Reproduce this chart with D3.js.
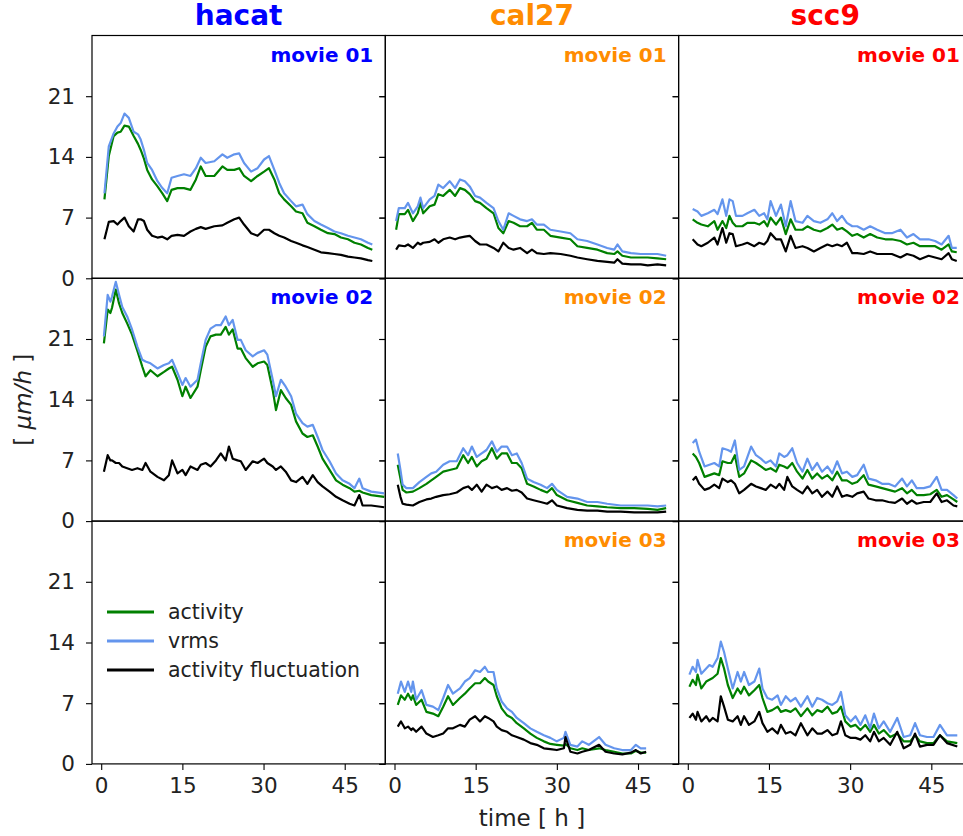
<!DOCTYPE html>
<html>
<head>
<meta charset="utf-8">
<script src="https://cdn.jsdelivr.net/npm/d3@7"></script>
<style>
  body { margin: 0; background: #fff; }
  svg { display: block; }
</style>
</head>
<body>
<div id="container"></div>
<script>
// values, time in hours, speeds in um/h
let cellLines = ["hacat", "cal27", "scc9"];
let lineColors = ["blue", "darkorange", "red"];
let yTicks = [0, 7, 14, 21];
let xTicks = [0, 15, 30, 45];
let seriesNames = ["activity", "vrms", "activity fluctuation"];
let seriesColors = ["green", "cornflowerblue", "black"];

// hacat movie 01
let hacat1_t = [0.6,1.4,2.3,3.0,3.6,4.3,5.1,6.0,6.8,7.3,7.9,8.5,9.4,10.4,11.3,12.2,13.0,14.1,15.3,16.5,17.5,18.4,19.3,20.9,22.4,23.3,24.6,25.5,26.4,27.7,28.9,30.1,31.0,32.0,32.9,33.8,35.1,36.0,37.2,38.1,39.4,40.6,41.9,43.1,44.3,45.6,46.8,48.0,49.3,50.1];
let hacat1_act = [9.1,14.1,16.4,16.8,16.9,17.6,17.5,16.4,15.5,14.8,13.8,12.5,11.4,10.6,9.8,8.9,10.2,10.4,10.4,10.2,11.4,12.9,11.8,11.8,12.9,12.5,12.5,12.7,11.8,11.2,11.8,12.3,12.7,11.4,9.8,9.1,8.3,7.7,7.5,6.4,6.0,5.6,5.2,5.1,4.7,4.5,4.1,3.9,3.5,3.3];
let hacat1_vrms = [9.8,15.2,16.7,17.5,17.9,19.0,18.5,16.9,16.6,16.0,14.8,13.3,12.5,11.2,10.4,9.8,11.6,11.8,12.0,11.8,12.7,13.9,13.3,13.5,14.3,13.9,14.3,14.4,13.3,12.3,12.7,13.7,14.1,12.5,11.0,9.8,8.9,8.3,8.5,7.4,6.6,6.2,5.8,5.4,5.2,4.9,4.7,4.5,4.1,3.9];
let hacat1_fluc = [4.5,6.5,6.6,6.2,6.6,7.0,6.0,5.4,6.8,6.8,6.6,5.6,4.9,4.7,4.8,4.5,4.9,5.0,4.9,5.4,5.7,5.9,5.7,6.0,6.1,6.4,6.8,7.0,6.2,5.2,4.9,5.6,5.6,5.2,4.9,4.7,4.3,4.1,3.8,3.6,3.3,3.0,2.9,2.8,2.7,2.5,2.4,2.3,2.1,2.0];

// hacat movie 02
let hacat2_t = [0.5,1.2,1.7,2.0,2.7,3.3,3.9,4.8,5.7,6.7,7.6,8.2,9.1,10.4,11.6,12.5,13.1,14.1,15.0,15.6,16.5,17.8,18.4,19.3,20.2,21.2,22.1,23.0,23.6,24.3,25.2,25.8,26.7,28.0,28.9,30.1,30.7,31.7,32.3,33.2,34.1,35.1,36.0,37.2,38.1,39.1,40.0,40.9,42.2,43.4,44.6,45.9,46.8,47.7,48.3,49.9,52.3];
let hacat2_act = [20.5,24.4,24.0,24.6,26.7,25.1,24.0,22.8,21.5,19.6,17.8,16.7,17.4,16.7,17.2,17.6,17.8,16.3,14.4,15.5,14.2,15.5,17.4,20.1,21.3,21.5,21.5,22.4,21.5,22.1,19.9,19.9,18.8,17.8,18.2,18.4,18.0,15.1,12.8,15.1,14.2,13.4,11.5,10.1,9.7,9.9,8.6,7.2,5.9,4.7,4.2,3.8,3.4,3.5,3.3,3.0,2.8];
let hacat2_vrms = [21.3,26.1,25.3,25.9,27.6,26.1,24.7,23.6,22.1,20.1,18.6,18.4,18.2,17.6,18.0,18.2,18.6,17.1,15.7,16.5,15.5,16.3,18.2,20.9,22.2,22.6,22.6,23.6,22.6,23.2,20.9,20.9,19.7,19.0,19.4,19.7,19.2,16.3,14.4,16.3,15.5,14.4,12.4,11.3,10.9,11.1,9.7,8.2,6.9,5.5,4.7,4.3,3.8,4.9,3.8,3.4,3.2];
let hacat2_fluc = [5.7,7.6,7.0,7.0,6.7,6.7,6.3,6.1,5.9,6.1,5.9,6.7,5.7,5.1,4.7,5.3,7.0,5.5,5.9,5.3,6.3,5.9,6.5,6.7,6.3,7.0,7.8,7.0,8.6,7.2,7.0,6.9,5.9,6.9,6.7,7.2,6.7,6.3,5.9,6.3,5.7,4.7,4.5,5.1,4.3,5.3,4.5,4.0,3.4,2.8,2.4,2.0,1.8,3.0,1.8,1.8,1.6];

// cal27 movie 01
let cal1_t = [0.3,0.8,1.9,2.5,3.4,4.3,4.8,5.3,6.5,7.4,8.1,9.0,10.2,11.2,12.1,13.0,13.9,14.9,15.8,17.0,18.3,19.2,20.1,21.1,22.0,23.2,24.5,25.4,26.3,27.6,28.8,30.7,32.5,33.8,35.6,37.5,39.3,40.6,41.2,42.1,43.7,45.5,46.8,48.6,50.2];
let cal1_act = [5.6,7.4,7.4,7.9,6.6,7.5,8.7,7.5,8.3,8.5,9.7,9.5,10.2,9.5,10.4,10.2,9.7,8.9,8.7,8.1,7.5,5.8,5.2,6.6,6.4,6.0,6.0,6.4,5.6,5.6,4.9,4.7,4.5,3.7,3.5,3.3,2.9,2.8,3.1,2.6,2.4,2.4,2.4,2.3,2.2];
let cal1_vrms = [6.6,8.1,8.1,8.7,7.5,8.3,9.3,8.1,9.1,9.5,10.8,10.4,11.2,10.4,11.4,11.2,10.6,9.5,9.3,8.7,8.1,6.6,5.6,7.5,7.2,6.8,6.6,6.8,6.2,6.2,5.6,5.4,5.2,4.5,4.3,3.9,3.5,3.3,3.9,3.1,2.9,2.8,2.8,2.8,2.6];
let cal1_fluc = [3.3,3.8,3.7,3.9,3.5,4.1,3.9,4.1,4.2,4.5,4.1,4.5,4.7,4.5,4.7,4.8,4.9,4.3,3.9,3.9,3.5,3.1,4.1,3.5,3.3,3.5,2.9,3.3,2.9,2.8,2.9,2.8,2.6,2.4,2.2,2.0,1.9,1.8,2.2,1.7,1.6,1.6,1.5,1.6,1.5];

// cal27 movie 02
let cal2_t = [0.6,1.1,1.5,2.2,3.4,4.6,5.9,6.8,7.7,9.0,10.2,11.5,12.7,13.6,14.3,15.2,16.1,17.0,18.0,18.9,19.8,20.8,21.7,22.6,23.5,24.5,25.7,27.0,28.2,29.1,30.0,31.9,33.8,35.6,37.5,39.3,41.8,44.3,46.8,48.6,50.2];
let cal2_act = [6.5,4.9,3.6,3.3,3.4,3.8,4.3,4.7,5.1,5.7,5.9,6.1,7.6,6.7,7.4,6.3,6.9,7.2,8.4,7.2,7.8,7.8,6.7,6.7,6.1,4.3,4.0,3.6,3.3,3.8,3.0,2.4,2.1,1.8,1.7,1.6,1.5,1.5,1.4,1.3,1.5];
let cal2_vrms = [7.8,5.9,4.2,3.8,3.8,4.5,5.1,5.5,5.7,6.5,6.9,6.9,8.4,7.6,8.6,7.4,7.8,8.2,9.2,8.0,8.6,8.6,7.6,7.8,6.7,4.9,4.5,4.2,3.8,4.3,3.6,2.8,2.6,2.2,2.2,2.0,1.8,1.8,1.8,1.7,1.8];
let cal2_fluc = [4.2,2.8,2.0,1.9,1.8,2.2,2.5,2.6,2.8,3.0,3.1,3.3,3.8,4.0,3.6,4.2,3.4,4.2,3.8,4.0,3.6,3.8,3.5,3.6,3.3,2.6,2.4,2.2,2.0,2.4,1.8,1.5,1.3,1.2,1.2,1.1,1.1,1.0,1.0,1.0,1.1];

// cal27 movie 03
let cal3_t = [0.6,1.2,1.9,2.5,3.1,3.4,4.0,5.0,5.9,7.1,8.1,9.0,9.9,10.8,12.1,13.0,13.9,14.9,15.8,16.7,17.3,18.3,18.9,19.8,20.8,21.7,22.6,23.9,25.1,26.3,27.6,28.8,30.0,31.3,31.6,32.5,33.8,34.7,35.9,37.8,39.0,40.6,42.1,43.7,44.6,45.5,46.5];
let cal3_act = [6.8,7.9,7.4,8.1,7.4,7.9,6.8,7.4,6.0,5.8,5.5,6.6,7.8,6.8,7.6,8.1,8.7,9.3,9.3,9.9,9.5,9.1,7.8,6.4,5.6,5.3,4.7,4.1,3.5,3.0,2.6,2.3,2.2,2.1,2.3,1.8,1.6,1.8,1.6,1.8,1.6,1.4,1.2,1.2,1.5,1.3,1.3];
let cal3_vrms = [8.1,9.5,8.3,9.5,8.3,9.5,7.4,8.5,6.8,6.6,6.2,7.6,9.1,8.1,8.7,9.5,9.9,10.8,10.6,11.2,10.6,10.6,8.7,7.2,6.4,6.0,5.3,4.7,4.1,3.7,3.3,3.0,2.6,3.0,3.7,2.2,2.0,2.6,2.2,3.1,2.2,1.8,1.6,1.6,2.2,1.8,1.8];
let cal3_fluc = [4.3,4.9,4.1,4.3,3.9,4.1,3.7,4.3,3.5,3.1,3.3,3.5,4.1,4.1,4.5,4.3,5.1,5.5,4.9,5.5,5.3,4.9,4.3,3.9,3.7,3.3,3.1,2.8,2.4,2.2,1.8,1.7,1.6,1.8,3.1,1.4,1.2,1.4,1.6,2.2,1.4,1.2,1.1,1.3,1.6,1.2,1.4];

// scc9 movie 01
let scc1_t = [0.9,1.8,2.5,3.7,4.9,5.5,6.4,7.1,7.7,8.3,8.9,10.1,11.0,12.3,13.2,14.1,14.7,15.3,16.3,17.2,18.1,19.0,19.9,21.2,22.1,23.3,24.5,25.8,26.7,27.6,28.5,29.4,30.4,31.3,32.5,33.7,35.0,36.5,37.7,39.3,40.5,41.7,42.9,44.5,45.7,46.9,48.2,48.8,49.7];
let scc1_act = [6.8,6.4,6.2,6.0,6.6,5.6,6.6,5.8,7.2,6.4,6.0,6.0,6.4,6.4,6.2,6.6,6.0,7.0,6.2,7.0,5.1,6.8,5.6,5.6,6.0,5.6,5.4,5.8,6.2,5.6,5.8,5.4,4.9,5.1,4.7,5.1,4.7,4.5,4.5,4.3,3.9,4.1,3.7,3.7,3.7,3.3,3.9,3.1,3.0];
let scc1_vrms = [8.0,7.7,7.2,7.5,7.9,7.4,9.1,7.2,9.1,8.9,7.2,7.2,7.5,7.9,7.2,7.5,6.8,8.9,7.2,8.5,6.0,8.9,6.6,6.4,7.2,6.6,6.4,6.8,7.5,6.6,7.2,6.4,6.0,6.0,5.6,6.0,5.6,5.2,5.2,5.6,4.7,5.1,4.5,4.5,4.3,3.9,4.9,3.5,3.5];
let scc1_fluc = [4.5,3.9,3.7,4.1,4.7,3.9,5.8,4.1,5.2,5.1,3.7,3.9,4.1,3.7,4.1,3.9,4.3,5.2,4.5,4.5,3.1,4.9,3.5,3.7,3.5,3.1,3.5,3.9,3.7,3.9,3.7,4.1,2.9,2.9,2.8,3.1,2.8,2.8,2.8,2.4,2.8,2.6,2.2,2.6,2.4,2.2,2.9,2.2,2.0];

// scc9 movie 02
let scc2_t = [0.9,1.5,2.1,3.1,4.0,4.9,5.8,6.4,7.4,8.0,8.7,9.5,10.4,11.7,12.6,13.5,14.4,15.3,16.3,16.9,17.8,18.4,19.3,20.2,21.2,22.1,23.0,23.9,24.8,25.8,26.7,27.6,28.5,29.4,30.4,31.3,32.5,33.4,34.7,35.9,37.1,38.3,39.6,40.5,41.4,42.3,43.6,44.8,46.0,46.9,47.9,49.1,49.8];
let scc2_act = [7.8,7.4,6.7,5.1,5.3,5.5,5.3,6.9,6.7,6.7,7.6,5.1,5.5,7.0,6.7,6.3,5.9,6.1,5.7,6.5,6.3,6.1,6.7,5.7,4.9,5.9,4.9,5.5,4.9,5.3,4.7,5.7,4.7,4.7,4.3,4.5,5.3,4.2,4.0,3.8,3.6,3.4,3.8,3.2,3.6,3.0,3.0,3.1,3.6,2.8,3.0,2.5,2.2];
let scc2_vrms = [9.0,9.4,8.0,6.3,6.5,6.7,6.3,8.4,8.2,8.0,9.3,5.9,6.3,8.6,7.6,7.2,6.7,7.0,6.3,7.8,7.4,7.6,8.4,6.7,5.7,7.2,5.9,6.7,5.7,6.3,5.5,6.9,5.5,5.7,5.1,5.3,6.5,4.9,4.7,4.3,4.3,4.0,4.9,4.0,4.7,3.8,3.8,4.0,5.1,3.6,3.6,3.0,2.6];
let scc2_fluc = [4.7,5.1,4.3,3.6,3.8,4.2,3.8,4.9,4.5,4.7,4.3,3.2,3.6,4.3,4.0,3.8,3.6,4.2,3.8,4.3,3.6,5.1,4.0,3.6,3.2,4.0,3.2,3.6,2.8,3.4,2.8,4.0,2.8,3.0,2.8,3.2,3.4,2.6,2.4,2.4,2.2,2.1,2.6,2.0,2.4,2.0,2.2,2.2,3.2,2.2,2.4,1.8,1.7];

// scc9 movie 03
let scc3_t = [0.3,0.9,1.5,1.8,2.5,3.4,4.0,4.6,5.5,6.1,6.7,7.4,8.3,9.2,9.8,10.4,11.3,12.3,13.2,13.8,14.7,15.6,16.6,17.2,18.1,19.0,19.9,20.9,22.1,23.0,23.9,24.8,25.8,26.7,27.6,28.3,29.1,30.1,31.0,31.9,32.8,33.7,34.4,35.3,36.2,37.4,38.7,39.9,41.1,42.0,42.9,44.2,45.4,46.6,47.9,49.8];
let scc3_act = [8.9,9.7,9.1,10.3,8.7,9.5,9.7,9.9,10.4,12.2,11.0,9.1,7.6,8.7,8.1,8.9,7.9,8.5,9.1,7.6,6.0,6.2,6.6,6.0,6.2,6.0,6.4,5.5,6.4,5.6,6.2,6.0,6.6,5.8,6.0,6.6,4.9,4.3,4.5,3.9,4.5,3.7,4.5,3.5,3.9,3.1,3.5,2.6,2.6,3.3,2.6,2.4,2.4,3.3,2.6,2.4];
let scc3_vrms = [10.3,11.2,10.6,12.0,10.4,11.0,11.4,11.2,12.2,14.1,12.9,11.0,8.7,10.6,9.5,10.6,9.1,9.5,11.0,8.7,7.6,7.4,7.9,6.8,7.8,7.2,7.6,6.6,7.8,6.6,7.6,7.4,7.0,6.8,7.2,8.3,5.6,4.9,5.5,4.5,5.6,4.1,5.8,4.1,4.9,3.7,5.3,3.1,3.3,4.7,3.3,3.1,3.1,4.5,3.3,3.3];
let scc3_fluc = [5.3,5.8,5.1,6.0,4.9,5.5,4.9,5.3,4.9,7.8,6.6,5.1,4.9,5.5,4.5,5.5,4.5,4.9,6.0,4.7,3.7,4.1,3.5,4.5,3.5,3.7,3.3,4.7,3.3,4.1,3.5,3.5,3.9,3.3,3.5,4.9,3.3,3.0,3.0,2.8,3.3,2.6,3.7,2.6,3.0,2.2,3.7,1.8,2.2,3.5,2.0,2.2,2.2,3.3,2.4,2.0];

let panels = [
  {col: 0, row: 0, label: "movie 01", t: hacat1_t, series: [hacat1_act, hacat1_vrms, hacat1_fluc]},
  {col: 0, row: 1, label: "movie 02", t: hacat2_t, series: [hacat2_act, hacat2_vrms, hacat2_fluc]},
  {col: 1, row: 0, label: "movie 01", t: cal1_t, series: [cal1_act, cal1_vrms, cal1_fluc]},
  {col: 1, row: 1, label: "movie 02", t: cal2_t, series: [cal2_act, cal2_vrms, cal2_fluc]},
  {col: 1, row: 2, label: "movie 03", t: cal3_t, series: [cal3_act, cal3_vrms, cal3_fluc]},
  {col: 2, row: 0, label: "movie 01", t: scc1_t, series: [scc1_act, scc1_vrms, scc1_fluc]},
  {col: 2, row: 1, label: "movie 02", t: scc2_t, series: [scc2_act, scc2_vrms, scc2_fluc]},
  {col: 2, row: 2, label: "movie 03", t: scc3_t, series: [scc3_act, scc3_vrms, scc3_fluc]}
];

let w = 963;
let h = 836;
let gridLeft = 92;
let gridTop = 35.5;
let colW = 293.3;
let rowH = 242.8;
let font = "DejaVu Sans";

let viz = d3.select("#container")
  .append("svg")
    .attr("width", w)
    .attr("height", h)
    .style("background-color", "white");

let xScale = d3.scaleLinear().domain([-1.7, 52.5]).range([0, colW]);
let yScale = d3.scaleLinear().domain([0, 28]).range([rowH, 0]);

function styleAxis(g, size) {
  g.select(".domain").remove();
  g.selectAll("line").attr("stroke", "black").attr("stroke-width", 1.1);
  g.selectAll("text")
    .attr("font-family", font)
    .attr("font-size", size)
    .attr("fill", "#222");
}

for (let row = 0; row < 3; row++) {
  for (let col = 0; col < 3; col++) {
    let cell = viz.append("g")
      .attr("transform", "translate(" + (gridLeft + col * colW) + "," + (gridTop + row * rowH) + ")");

    // outward ticks on the left, labels only for the first column
    let yAxisLeft = d3.axisLeft(yScale).tickValues(yTicks).tickSize(6).tickPadding(11).tickSizeOuter(0);
    if (col > 0) yAxisLeft.tickFormat("");
    let ga = cell.append("g").call(yAxisLeft);
    styleAxis(ga, "21.5px");

    // inward ticks on the right spine
    let gb = cell.append("g").attr("transform", "translate(" + colW + ",0)")
      .call(d3.axisLeft(yScale).tickValues(yTicks).tickSize(6).tickFormat("").tickSizeOuter(0));
    styleAxis(gb, "21.5px");

    if (row == 2) {
      let gx = cell.append("g").attr("transform", "translate(0," + rowH + ")")
        .call(d3.axisBottom(xScale).tickValues(xTicks).tickSize(6).tickPadding(8).tickSizeOuter(0));
      styleAxis(gx, "21.5px");
    }

    cell.append("rect")
      .attr("width", colW)
      .attr("height", rowH)
      .attr("fill", "none")
      .attr("stroke", "black")
      .attr("stroke-width", 1.2);
  }
}

// clip so the lines stay inside their box
viz.append("defs").append("clipPath").attr("id", "cellclip")
  .append("rect").attr("width", colW).attr("height", rowH);

let line = d3.line()
  .x(function(d){ return xScale(d[0]); })
  .y(function(d){ return yScale(d[1]); });

panels.forEach(function(p){
  let g = viz.append("g")
    .attr("transform", "translate(" + (gridLeft + p.col * colW) + "," + (gridTop + p.row * rowH) + ")");
  let inner = g.append("g").attr("clip-path", "url(#cellclip)");
  p.series.forEach(function(vals, i){
    let pts = p.t.map(function(t, j){ return [t, vals[j]]; });
    inner.append("path")
      .attr("d", line(pts))
      .attr("fill", "none")
      .attr("stroke", seriesColors[i])
      .attr("stroke-width", 2.2)
      .attr("stroke-linejoin", "round");
  });
  g.append("text")
    .text(p.label)
    .attr("x", colW - 12)
    .attr("y", 26)
    .attr("text-anchor", "end")
    .attr("font-family", font)
    .attr("font-weight", "bold")
    .attr("font-size", "20px")
    .attr("fill", lineColors[p.col]);
});

// column titles
cellLines.forEach(function(name, i){
  viz.append("text")
    .text(name)
    .attr("x", gridLeft + (i + 0.5) * colW)
    .attr("y", 25)
    .attr("text-anchor", "middle")
    .attr("font-family", font)
    .attr("font-weight", "bold")
    .attr("font-size", "28px")
    .attr("fill", lineColors[i]);
});

// axis labels
viz.append("text")
  .text("time [ h ]")
  .attr("x", gridLeft + 1.5 * colW)
  .attr("y", 826)
  .attr("text-anchor", "middle")
  .attr("font-family", font)
  .attr("font-size", "23px")
  .attr("fill", "#222");

let yLab = viz.append("text")
  .attr("transform", "translate(31," + (gridTop + 1.5 * rowH) + ") rotate(-90)")
  .attr("text-anchor", "middle")
  .attr("font-family", font)
  .attr("font-size", "23px")
  .attr("fill", "#222");
yLab.append("tspan").text("[ ");
yLab.append("tspan").text("μm/h").attr("font-style", "italic");
yLab.append("tspan").text(" ]");

// legend in the empty hacat cell
let legend = viz.append("g").attr("transform", "translate(" + gridLeft + "," + (gridTop + 2 * rowH) + ")");
seriesNames.forEach(function(name, i){
  let ly = 91 + i * 29;
  legend.append("line")
    .attr("x1", 15).attr("x2", 62)
    .attr("y1", ly).attr("y2", ly)
    .attr("stroke", seriesColors[i])
    .attr("stroke-width", 3);
  legend.append("text")
    .text(name)
    .attr("x", 76)
    .attr("y", ly + 7)
    .attr("font-family", font)
    .attr("font-size", "20.5px")
    .attr("fill", "#222");
});
</script>
</body>
</html>
